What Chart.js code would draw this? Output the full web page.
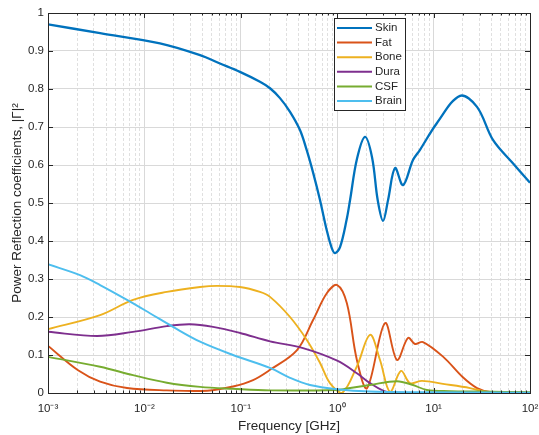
<!DOCTYPE html>
<html>
<head>
  <title>Power Reflection coefficients</title>
  <script src="https://cdn.jsdelivr.net/npm/chart.js"></script>
  <style>
    body { margin: 0; background: #fff; }
    .chart-container { width: 539px; height: 435px; }
  </style>
</head>
<body>
  <div class="chart-container">
    <canvas id="chart" width="539" height="435"></canvas>
  </div>

  <script>
    // values (frequency in GHz)
    const skinFreq = [0.001, 0.00347, 0.0145, 0.0378, 0.0608, 0.098, 0.158, 0.201, 0.255, 0.324, 0.411, 0.483, 0.565, 0.663, 0.778, 0.877, 0.95, 1.07, 1.25, 1.36, 1.6, 1.94, 2.3, 2.63, 2.99, 3.37, 3.98, 4.82, 6.11, 7.23, 10.8, 18.8, 28.2, 41.3, 66.1, 100];
    const skinVals = [0.97, 0.947, 0.92, 0.889, 0.867, 0.845, 0.819, 0.802, 0.776, 0.74, 0.692, 0.639, 0.578, 0.508, 0.429, 0.382, 0.368, 0.384, 0.455, 0.508, 0.615, 0.674, 0.62, 0.508, 0.453, 0.508, 0.592, 0.547, 0.613, 0.64, 0.71, 0.782, 0.753, 0.666, 0.605, 0.553];

    const fatFreq = [0.001, 0.00205, 0.00347, 0.0066, 0.0171, 0.0447, 0.083, 0.134, 0.201, 0.383, 0.562, 0.783, 1.0, 1.26, 1.6, 2.04, 3.13, 4.17, 5.43, 6.41, 7.76, 12.6, 20, 28.2, 38.5, 100];
    const fatVals = [0.124, 0.06, 0.03, 0.013, 0.007, 0.006, 0.017, 0.034, 0.061, 0.113, 0.192, 0.263, 0.284, 0.236, 0.087, 0.013, 0.184, 0.087, 0.145, 0.129, 0.134, 0.095, 0.042, 0.013, 0.003, 0];

    const boneFreq = [0.001, 0.00347, 0.00762, 0.0171, 0.0378, 0.0566, 0.098, 0.158, 0.201, 0.324, 0.486, 0.664, 0.841, 1.12, 1.6, 2.19, 2.78, 3.53, 4.59, 5.69, 7.59, 12.5, 23.9, 35.8, 100];
    const boneVals = [0.168, 0.205, 0.245, 0.266, 0.279, 0.282, 0.279, 0.266, 0.253, 0.2, 0.139, 0.079, 0.026, 0, 0.07, 0.153, 0.087, 0.003, 0.058, 0.026, 0.032, 0.024, 0.013, 0.003, 0];

    const duraFreq = [0.001, 0.00324, 0.00762, 0.0171, 0.0297, 0.0515, 0.098, 0.201, 0.442, 1.0, 1.6, 2.19, 3.29, 7.23, 100];
    const duraVals = [0.161, 0.15, 0.161, 0.176, 0.181, 0.174, 0.158, 0.136, 0.118, 0.085, 0.052, 0.026, 0.003, 0, 0];

    const csfFreq = [0.001, 0.00347, 0.00762, 0.0171, 0.0378, 0.083, 0.201, 1.0, 1.26, 2.19, 4.17, 6.11, 8.51, 14.8, 30.2, 100];
    const csfVals = [0.095, 0.069, 0.047, 0.027, 0.016, 0.011, 0.007, 0.008, 0.012, 0.021, 0.031, 0.021, 0.008, 0.005, 0.004, 0.002];

    const brainFreq = [0.001, 0.00215, 0.00347, 0.0066, 0.0114, 0.0198, 0.0378, 0.083, 0.201, 0.324, 0.522, 1.0, 2.19, 7.23, 100];
    const brainVals = [0.339, 0.31, 0.284, 0.245, 0.21, 0.174, 0.135, 0.1, 0.066, 0.04, 0.021, 0.01, 0.004, 0.002, 0.001];

    const seriesNames = ["Skin", "Fat", "Bone", "Dura", "CSF", "Brain"];
    const xTickValues = [0.001, 0.01, 0.1, 1, 10, 100];
    const xTickLabels = ["10\u207B\u00B3", "10\u207B\u00B2", "10\u207B\u00B9", "10\u2070", "10\u00B9", "10\u00B2"];

    const colors = ["#0072BD", "#D95319", "#EDB120", "#7E2F8E", "#77AC30", "#4DBEEE"];
    const textColor = "#262626";
    const fontFamily = "'Liberation Sans', Arial, sans-serif";

    function points(xs, ys) {
      return xs.map((x, i) => ({ x: x, y: ys[i] }));
    }

    const allFreq = [skinFreq, fatFreq, boneFreq, duraFreq, csfFreq, brainFreq];
    const allVals = [skinVals, fatVals, boneVals, duraVals, csfVals, brainVals];

    const datasets = seriesNames.map((name, i) => ({
      label: name,
      data: points(allFreq[i], allVals[i]),
      borderColor: colors[i],
      backgroundColor: colors[i],
      borderWidth: i === 0 ? 2.3 : 1.9,
      pointRadius: 0,
      tension: 0.35,
      fill: false,
      order: 6 - i, // later series on top, like the original
    }));

    function isDecade(v) {
      const e = Math.log10(v);
      return Math.abs(e - Math.round(e)) < 1e-6;
    }

    // box, inward tick marks and the legend inside the axes
    const matlabAxes = {
      id: "matlabAxes",
      afterDraw(chart) {
        const { ctx, chartArea: a, scales } = chart;
        const xs = scales.x, ys = scales.y;
        ctx.save();
        ctx.strokeStyle = textColor;
        ctx.lineWidth = 1;
        ctx.beginPath();
        xs.ticks.forEach((t) => {
          const px = Math.round(xs.getPixelForValue(t.value)) + 0.5;
          const len = isDecade(t.value) ? 5 : 2.5;
          ctx.moveTo(px, a.bottom); ctx.lineTo(px, a.bottom - len);
          ctx.moveTo(px, a.top); ctx.lineTo(px, a.top + len);
        });
        ys.ticks.forEach((t) => {
          const py = Math.round(ys.getPixelForValue(t.value)) + 0.5;
          ctx.moveTo(a.left, py); ctx.lineTo(a.left + 5, py);
          ctx.moveTo(a.right, py); ctx.lineTo(a.right - 5, py);
        });
        ctx.stroke();
        ctx.strokeRect(Math.round(a.left) + 0.5, Math.round(a.top) + 0.5, Math.round(a.right - a.left), Math.round(a.bottom - a.top));

        // legend
        const lx = 334, ly = 18, lw = 71, lh = 92;
        ctx.fillStyle = "#fff";
        ctx.fillRect(lx, ly, lw, lh);
        ctx.strokeRect(lx + 0.5, ly + 0.5, lw, lh);
        ctx.font = "11.5px " + fontFamily;
        ctx.textBaseline = "middle";
        chart.data.datasets.forEach((ds, i) => {
          const y = ly + 10 + i * 14.6;
          ctx.strokeStyle = ds.borderColor;
          ctx.lineWidth = 2;
          ctx.beginPath();
          ctx.moveTo(lx + 3, y); ctx.lineTo(lx + 38, y);
          ctx.stroke();
          ctx.fillStyle = textColor;
          ctx.fillText(ds.label, lx + 41, y);
        });
        ctx.restore();
      },
    };

    const chart = new Chart("chart", {
      type: "line",
      data: { datasets: datasets },
      options: {
        responsive: false,
        animation: false,
        events: [],
        layout: { padding: { top: 13, right: 9, left: 0, bottom: 0 } },
        plugins: {
          legend: { display: false },
          tooltip: { enabled: false },
        },
        scales: {
          x: {
            type: "logarithmic",
            min: 0.001,
            max: 100,
            afterBuildTicks: (scale) => {
              // keep 1..9 x 10^n only
              scale.ticks = scale.ticks.filter((t) => {
                const m = t.value / Math.pow(10, Math.floor(Math.log10(t.value) + 1e-9));
                return Math.abs(m - Math.round(m)) < 1e-6;
              });
            },
            afterFit: (scale) => {
              scale.height = 42;
              scale.paddingLeft = 0;
              scale.paddingRight = 0;
            },
            ticks: {
              autoSkip: false,
              maxRotation: 0,
              minRotation: 0,
              padding: 9,
              color: textColor,
              font: { family: fontFamily, size: 11.5 },
              callback: (v) => {
                const k = xTickValues.findIndex((t) => Math.abs(Math.log10(t) - Math.log10(v)) < 1e-6);
                return k >= 0 ? xTickLabels[k] : "";
              },
            },
            grid: {
              drawTicks: false,
              color: (c) => (c.tick && isDecade(c.tick.value) ? "#d9d9d9" : "#e0e0e0"),
              lineWidth: 1,
            },
            border: {
              display: false,
              dash: (c) => (c.tick && !isDecade(c.tick.value) ? [3, 2] : []),
            },
            title: {
              display: true,
              text: "Frequency [GHz]",
              color: textColor,
              font: { family: fontFamily, size: 13.5 },
              padding: { top: 2, bottom: 1 },
            },
          },
          y: {
            min: 0,
            max: 1,
            afterFit: (scale) => { scale.width = 48; },
            ticks: {
              stepSize: 0.1,
              padding: 4,
              color: textColor,
              font: { family: fontFamily, size: 11.5 },
              callback: (v) => String(+v.toFixed(1)),
            },
            grid: { drawTicks: false, color: "#d9d9d9", lineWidth: 1 },
            border: { display: false },
            title: {
              display: true,
              text: "Power Reflection coefficients, |\u0393|\u00B2",
              color: textColor,
              font: { family: fontFamily, size: 13.5 },
              padding: { top: 9, bottom: 0 },
            },
          },
        },
      },
      plugins: [matlabAxes],
    });
  </script>
</body>
</html>
